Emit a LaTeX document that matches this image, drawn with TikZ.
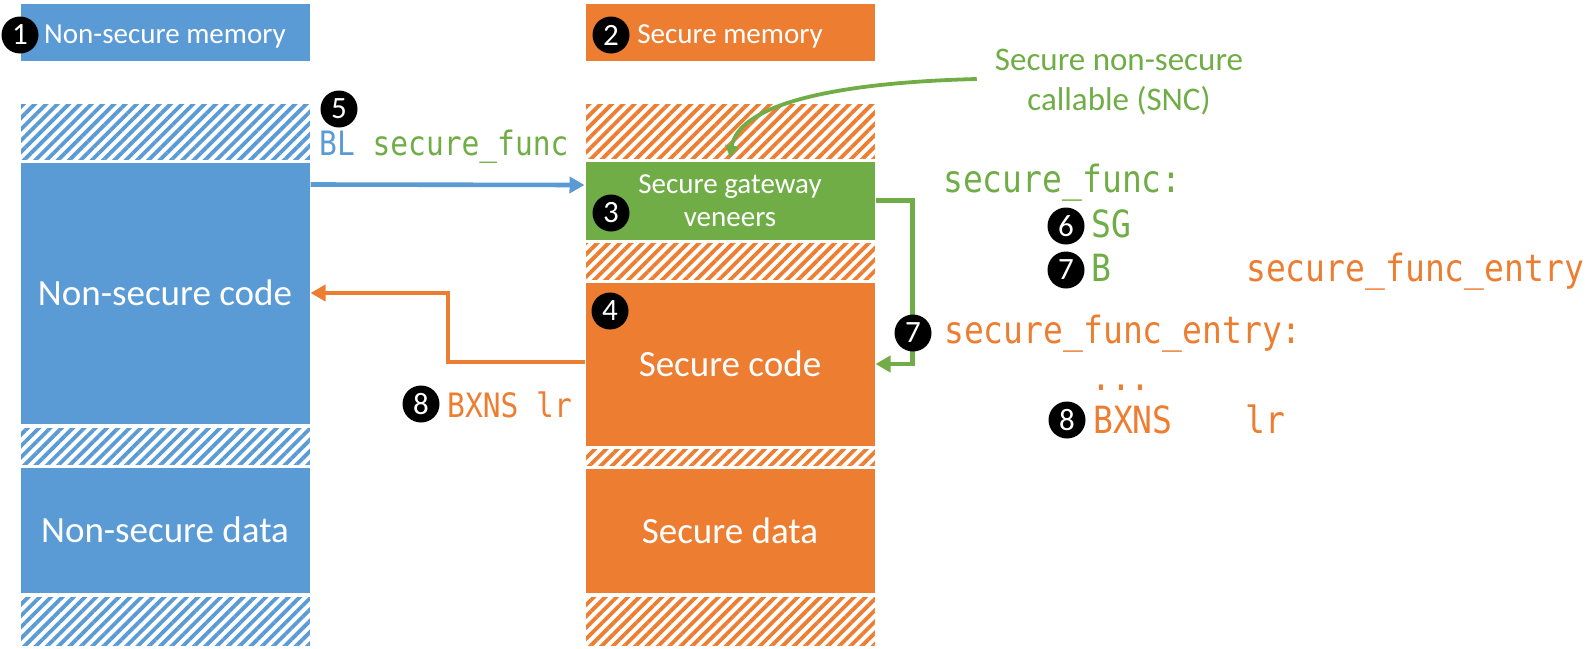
\documentclass[tikz,border=0pt]{standalone}
\usepackage{fontspec}
\setmainfont{Carlito}
\newfontfamily\codefont[FakeStretch=0.88]{DejaVu Sans Mono}
\usetikzlibrary{calc,arrows.meta,patterns.meta}
\definecolor{nsblue}{HTML}{5B9BD5}
\definecolor{sorange}{HTML}{ED7D31}
\definecolor{sgreen}{HTML}{70AD47}
\tikzset{
  blk/.style={rectangle, inner sep=0pt, draw=white, line width=1pt, text=white, align=center, minimum width=290pt},
  hdrfont/.style={font=\fontsize{29}{33}\selectfont},
  hdrbox/.style={blk, hdrfont, minimum height=58pt, text height=22pt, text depth=0pt},
  bigfont/.style={font=\fontsize{37}{42}\selectfont},
  hatchb/.style={blk, pattern={Lines[angle=45,distance=8pt,line width=3.8pt]}, pattern color=nsblue},
  hatcho/.style={blk, pattern={Lines[angle=45,distance=8pt,line width=3.8pt]}, pattern color=sorange},
  num/.style={circle, fill=black, minimum size=37pt, inner sep=0pt, text=white, font=\fontsize{31}{31}\selectfont},
  codeR/.style={inner sep=0pt, anchor=base west, font=\codefont\fontsize{37.5}{40}\selectfont},
  codeL/.style={inner sep=0pt, anchor=base west, font=\codefont\fontsize{33.6}{36}\selectfont},
  conn/.style={line width=4.6pt, -{Triangle[length=15pt,width=16pt]}},
}
\begin{document}
\begin{tikzpicture}[x=1pt,y=-1pt]
\useasboundingbox (0,0) rectangle (1592,648);
% left column
\node[hdrbox, fill=nsblue] (nshdr) at (165,32) {Non-secure memory};
\node[hatchb, minimum height=57pt] (nsh1) at (165,131.5) {};
\node[blk, fill=nsblue, minimum height=262pt, bigfont] (nscode) at (165,293) {Non-secure code};
\node[hatchb, minimum height=38pt] (nsh2) at (165,446) {};
\node[blk, fill=nsblue, minimum height=126pt, bigfont] (nsdata) at (165,530) {Non-secure data};
\node[hatchb, minimum height=50pt] (nsh3) at (165,621) {};
% right column
\node[hdrbox, fill=sorange] (shdr) at (730,32) {Secure memory};
\node[hatcho, minimum height=56pt] (sh1) at (730,131) {};
\node[blk, fill=sgreen, minimum height=79pt, hdrfont] (sg) at (730,200.5) {Secure gateway\\veneers};
\node[hatcho, minimum height=38pt] (sh2) at (730,261) {};
\node[blk, fill=sorange, minimum height=164pt, bigfont] (scode) at (730,364) {Secure code};
\node[hatcho, minimum height=18pt] (sh3) at (730,457) {};
\node[blk, fill=sorange, minimum height=125pt, bigfont] (sdata) at (730,530.5) {Secure data};
\node[hatcho, minimum height=50pt] (sh4) at (730,621) {};
% SNC label
\node[inner sep=0pt, text=sgreen, align=center, font=\fontsize{33}{40}\selectfont] (snc) at (1119,82) {Secure non-secure\\callable (SNC)};
% code left
\node[codeL] (bl) at (319,155) {\textcolor{nsblue}{BL} \textcolor{sgreen}{secure\_func}};
\node[codeL, text=sorange] (bxl) at (447,417) {BXNS lr};
% code right
\node[codeR, text=sgreen] (sfunc) at (943,192) {secure\_func:};
\node[codeR, text=sgreen] (sgi) at (1091,237) {SG};
\node[codeR, text=sgreen] (bi) at (1091,281) {B};
\node[codeR, text=sorange] (bent) at (1246,281) {secure\_func\_entry};
\node[codeR, text=sorange] (sfe) at (944,343) {secure\_func\_entry:};
\node[codeR, text=sorange] (dots) at (1091,390) {...};
\node[codeR, text=sorange] (bxr) at (1093,433) {BXNS};
\node[codeR, text=sorange] (lrr) at (1245,433) {lr};
% connectors
\coordinate (gc) at ($(scode.east)+(37,0)$);
\coordinate (ob) at (448,293);
\draw[conn, nsblue] ($(nscode.north east)+(0,23)$) -- ($(sg.west)+(0,-15.5)$);
\draw[conn, sorange] ($(scode.west)+(0,-2)$) -| (ob) -- (nscode.east);
\draw[conn, sgreen] (sg.east) -| (gc) -- (scode.east);
\draw[sgreen, line width=3.8pt, -{Triangle[length=12pt,width=13pt]}]
  ([xshift=-18pt,yshift=3pt]snc.west) .. controls (820,83) and (738,108) .. ([yshift=3pt]sg.north);
% numbered circles
\node[num] (c1) at (20,35) {1};
\node[num] (c2) at (611,35) {2};
\node[num] (c3) at (611,213) {3};
\node[num] (c4) at (610,311) {4};
\node[num] (c5) at (339,109) {5};
\node[num] (c6) at (1066,226) {6};
\node[num] (c7a) at (1066,270) {7};
\node[num] (c7b) at (913,333) {7};
\node[num] (c8a) at (421,404) {8};
\node[num] (c8b) at (1067,420) {8};
\end{tikzpicture}
\end{document}
